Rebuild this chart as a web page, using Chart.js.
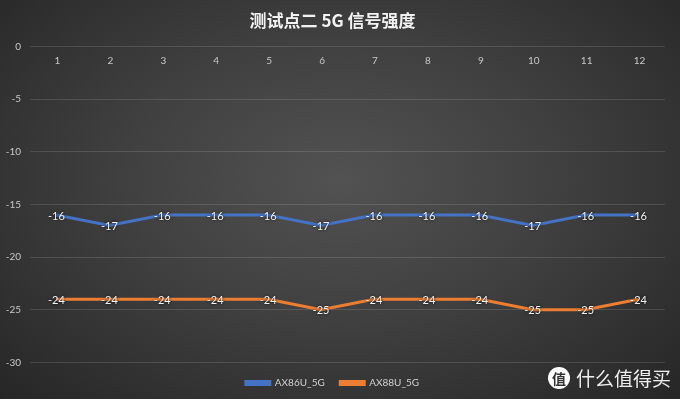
<!DOCTYPE html>
<html>
<head>
<meta charset="utf-8">
<script src="https://cdn.jsdelivr.net/npm/chart.js@4"></script>
<style>
  html, body { margin: 0; padding: 0; }
  body {
    width: 680px; height: 399px; overflow: hidden; position: relative;
    background: radial-gradient(ellipse at 50% 45%, #525252 0%, #404040 45%, #262626 100%);
  }
  #wrap { position: absolute; left: 0; top: 0; width: 680px; height: 399px; }
  #mark {
    position: absolute; left: 548px; top: 364px; color: rgba(255,255,255,0.92);
    font: 19px "Noto Sans CJK SC", sans-serif; white-space: nowrap;
  }
  #mark b {
    display: inline-block; width: 22px; height: 22px; border-radius: 11px;
    background: #fff; color: #333; font-size: 14px; line-height: 22px; text-align: center;
    vertical-align: 2px; margin-right: 6px;
  }
</style>
</head>
<body>
<div id="wrap"><canvas id="chart" width="680" height="399"></canvas></div>
<div id="mark"><b>值</b>什么值得买</div>
<script>
// Chart data
const categories = ['1', '2', '3', '4', '5', '6', '7', '8', '9', '10', '11', '12'];
const ax86u = [-16, -17, -16, -16, -16, -17, -16, -16, -16, -17, -16, -16];
const ax88u = [-24, -24, -24, -24, -24, -25, -24, -24, -24, -25, -25, -24];
const yTicks = [0, -5, -10, -15, -20, -25, -30];

const tickColor = '#c8c8c8';
const numFont = 'Lato, "Open Sans", sans-serif';

// category labels sit just under the 0 line, like the Excel original
const topLabels = {
    id: 'topLabels',
    afterDraw(chart) {
        const x = chart.scales.x, y = chart.scales.y;
        const ctx = chart.ctx;
        ctx.save();
        ctx.fillStyle = tickColor;
        ctx.font = '10px ' + numFont;
        ctx.textAlign = 'center';
        ctx.textBaseline = 'middle';
        categories.forEach((c, i) => {
            ctx.fillText(c, x.getPixelForValue(i) + 1, y.getPixelForValue(0) + 14);
        });
        ctx.restore();
    }
};

// value labels centered on each point
const pointLabels = {
    id: 'pointLabels',
    afterDatasetsDraw(chart) {
        const ctx = chart.ctx;
        ctx.save();
        ctx.font = '11px ' + numFont;
        ctx.textAlign = 'center';
        ctx.textBaseline = 'middle';
        ctx.fillStyle = '#f2f2f2';
        ctx.shadowColor = 'rgba(0,0,0,0.9)';
        ctx.shadowBlur = 3;
        chart.data.datasets.forEach((ds, di) => {
            chart.getDatasetMeta(di).data.forEach((pt, i) => {
                ctx.fillText(String(ds.data[i]), pt.x, pt.y + 1);
            });
        });
        ctx.restore();
    }
};

new Chart(document.getElementById('chart'), {
    type: 'line',
    data: {
        labels: categories,
        datasets: [{
            label: 'AX86U_5G',
            data: ax86u,
            borderColor: '#4472C4',
            backgroundColor: '#4472C4',
            borderWidth: 3,
            pointRadius: 0,
            tension: 0
        }, {
            label: 'AX88U_5G',
            data: ax88u,
            borderColor: '#ED7D31',
            backgroundColor: '#ED7D31',
            borderWidth: 3,
            pointRadius: 0,
            tension: 0
        }]
    },
    options: {
        responsive: false,
        animation: false,
        devicePixelRatio: 1,
        layout: { padding: { left: 0, right: 15, top: 0, bottom: 1 } },
        plugins: {
            title: {
                display: true,
                text: '测试点二 5G 信号强度',
                color: '#f2f2f2',
                font: { family: '"Noto Sans CJK SC", sans-serif', size: 17, weight: 'bold' },
                padding: { top: 10, bottom: 16 }
            },
            legend: {
                position: 'bottom',
                labels: {
                    color: '#d0d0d0',
                    font: { family: numFont, size: 10 },
                    boxWidth: 24,
                    boxHeight: 3,
                    padding: 15.5
                }
            },
            tooltip: { enabled: false }
        },
        scales: {
            x: {
                display: false,
                offset: true
            },
            y: {
                min: -30,
                max: 0,
                afterFit(scale) { scale.width = 30; },
                afterBuildTicks(scale) { scale.ticks = yTicks.map(v => ({ value: v })); },
                border: { display: false },
                grid: { color: 'rgba(255,255,255,0.13)', lineWidth: 1, drawTicks: false },
                ticks: {
                    color: tickColor,
                    font: { family: numFont, size: 10 },
                    padding: 9
                }
            }
        }
    },
    plugins: [topLabels, pointLabels]
});
</script>
</body>
</html>
